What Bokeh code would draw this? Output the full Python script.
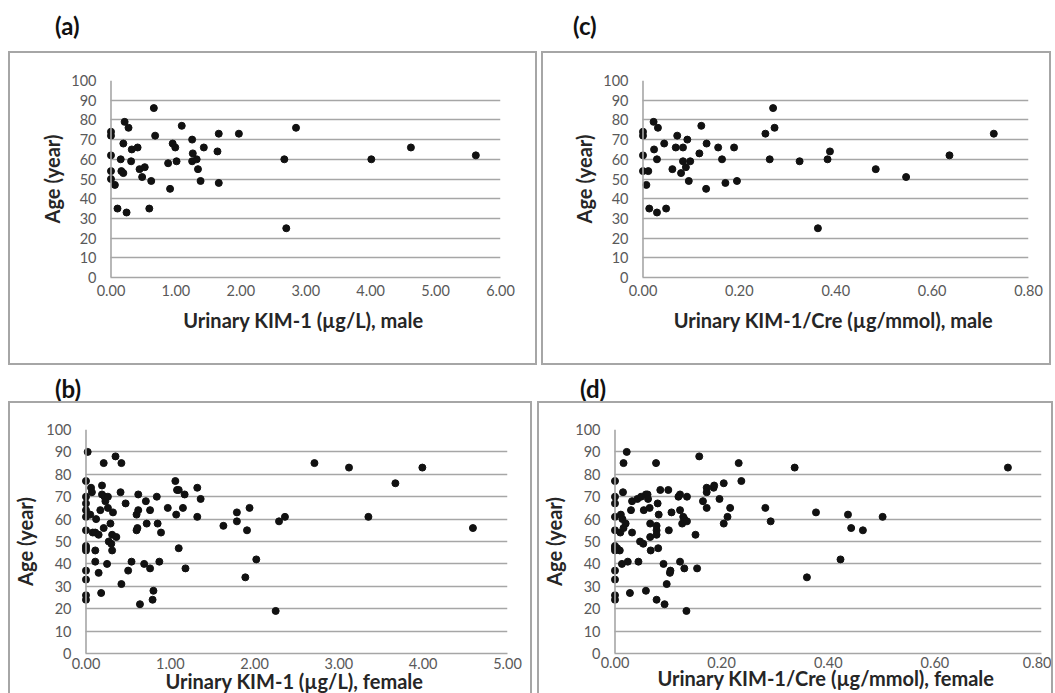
from bokeh.plotting import figure
from bokeh.layouts import column, row
from bokeh.models import Div, Spacer, Range1d, Span, NumeralTickFormatter, FixedTicker
from bokeh.embed import file_html
from bokeh.resources import INLINE

# ---------------- data ----------------
# (a) male, urinary KIM-1 (ug/L) vs age
a_kim = [0.00, 0.00, 0.00, 0.00, 0.00, 0.06, 0.10, 0.15, 0.16, 0.19, 0.19, 0.21, 0.24,
         0.27, 0.31, 0.32, 0.41, 0.44, 0.48, 0.52, 0.59, 0.62, 0.66, 0.68, 0.88, 0.91,
         0.95, 0.99, 1.01, 1.09, 1.25, 1.26, 1.25, 1.32, 1.34, 1.38, 1.43, 1.64, 1.66,
         1.66, 1.97, 2.67, 2.70, 2.85, 4.01, 4.62, 5.62]
a_age = [74, 72, 62, 54, 50, 47, 35, 60, 54, 68, 53, 79, 33,
         76, 59, 65, 66, 55, 51, 56, 35, 49, 86, 72, 58, 45,
         68, 66, 59, 77, 70, 63, 59, 60, 55, 49, 66, 64, 73,
         48, 73, 60, 25, 76, 60, 66, 62]

# (c) male, urinary KIM-1/Cre (ug/mmol) vs age
c_kim = [0.000, 0.000, 0.000, 0.000, 0.011, 0.007, 0.013, 0.022, 0.023, 0.029, 0.031,
         0.029, 0.044, 0.048, 0.061, 0.068, 0.071, 0.079, 0.083, 0.083, 0.089, 0.092,
         0.095, 0.098, 0.117, 0.121, 0.131, 0.132, 0.156, 0.164, 0.171, 0.189, 0.195,
         0.254, 0.263, 0.270, 0.273, 0.325, 0.363, 0.383, 0.388, 0.483, 0.546, 0.636,
         0.728]
c_age = [74, 72, 62, 54, 54, 47, 35, 79, 65, 60, 76,
         33, 68, 35, 55, 66, 72, 53, 66, 59, 56, 70,
         49, 59, 63, 77, 45, 68, 66, 60, 48, 66, 49,
         73, 60, 86, 76, 59, 25, 60, 64, 55, 51, 62,
         73]

# (b) female, urinary KIM-1 (ug/L) vs age
b_kim = [0.02, 0.00, 0.00, 0.00, 0.00, 0.00, 0.00, 0.00, 0.00, 0.00, 0.00, 0.00, 0.00,
         0.00, 0.05, 0.06, 0.07, 0.08, 0.11, 0.11, 0.11, 0.12, 0.15, 0.15, 0.17, 0.18,
         0.19, 0.19, 0.21, 0.21, 0.22, 0.23, 0.25, 0.26, 0.26, 0.27, 0.29, 0.30, 0.31,
         0.31, 0.32, 0.35, 0.36, 0.41, 0.42, 0.42, 0.47, 0.50, 0.54, 0.60, 0.60, 0.61,
         0.62, 0.62, 0.64, 0.69, 0.71, 0.72, 0.76, 0.76, 0.79, 0.80, 0.84, 0.85, 0.87,
         0.89, 0.97, 1.06, 1.07, 1.08, 1.10, 1.10, 1.15, 1.17, 1.18, 1.32, 1.32, 1.36,
         1.63, 1.79, 1.79, 1.89, 1.91, 1.94, 2.02, 2.25, 2.29, 2.36, 2.71, 3.12, 3.35,
         3.67, 3.99, 4.59]
b_age = [90, 77, 70, 67, 64, 61, 55, 48, 47, 46, 37, 33, 26,
         24, 62, 74, 72, 54, 54, 46, 41, 60, 53, 36, 64, 27,
         75, 71, 85, 56, 70, 68, 40, 65, 70, 50, 58, 49, 53,
         46, 63, 88, 52, 72, 31, 85, 67, 37, 41, 55, 62, 56,
         64, 71, 22, 40, 68, 58, 38, 64, 24, 28, 70, 58, 41,
         54, 65, 77, 62, 73, 47, 73, 65, 71, 38, 74, 61, 69,
         57, 63, 59, 34, 55, 65, 42, 19, 59, 61, 85, 83, 61,
         76, 83, 56]

# (d) female, urinary KIM-1/Cre (ug/mmol) vs age
d_kim = [0.000, 0.000, 0.000, 0.000, 0.000, 0.000, 0.000, 0.000, 0.000, 0.000, 0.000,
         0.000, 0.004, 0.009, 0.011, 0.010, 0.013, 0.014, 0.016, 0.015, 0.016, 0.020,
         0.022, 0.024, 0.028, 0.030, 0.032, 0.032, 0.042, 0.044, 0.047, 0.049, 0.053,
         0.054, 0.058, 0.058, 0.061, 0.062, 0.065, 0.066, 0.066, 0.067, 0.077, 0.078,
         0.078, 0.078, 0.078, 0.080, 0.081, 0.082, 0.085, 0.091, 0.093, 0.097, 0.100,
         0.101, 0.103, 0.104, 0.106, 0.119, 0.122, 0.122, 0.122, 0.126, 0.128, 0.130,
         0.130, 0.134, 0.135, 0.135, 0.151, 0.154, 0.158, 0.165, 0.172, 0.172, 0.172,
         0.185, 0.186, 0.196, 0.204, 0.204, 0.211, 0.216, 0.232, 0.237, 0.282, 0.292,
         0.337, 0.360, 0.377, 0.423, 0.437, 0.443, 0.465, 0.502, 0.737]
d_age = [77, 70, 67, 61, 55, 48, 47, 46, 37, 33, 26,
         24, 47, 46, 62, 54, 40, 60, 85, 72, 56, 58,
         90, 41, 27, 64, 54, 68, 69, 41, 50, 70, 49,
         64, 71, 28, 71, 69, 65, 52, 58, 46, 85, 55,
         57, 53, 24, 67, 47, 62, 73, 40, 22, 31, 73,
         55, 36, 37, 63, 70, 41, 71, 64, 58, 61, 38,
         60, 19, 59, 70, 53, 38, 88, 68, 74, 72, 65,
         74, 75, 69, 76, 58, 61, 65, 85, 77, 65, 59,
         83, 34, 63, 42, 62, 56, 55, 61, 83]

a_xlabel = "Urinary KIM-1 (µg/L), male"
c_xlabel = "Urinary KIM-1/Cre (µg/mmol), male"
b_xlabel = "Urinary KIM-1 (µg/L), female"
d_xlabel = "Urinary KIM-1/Cre (µg/mmol), female"
y_label = "Age (year)"
y_ticks = [0, 10, 20, 30, 40, 50, 60, 70, 80, 90, 100]
ab_ticks_a = [0, 1, 2, 3, 4, 5, 6]
ab_ticks_b = [0, 1, 2, 3, 4, 5]
cd_ticks = [0, 0.2, 0.4, 0.6, 0.8]

FONT = "Lato"
GRID = "#a6a6a6"
BORDER = "#a6a6a6"


def panel(xs, ys, xmax, xticks, xlabel, width, height, left, right, top, bottom,
          ytick_standoff, ylab_standoff, xtick_standoff, xlab_standoff,
          border_bottom=True):
    frame_w = width - 4 - left - right
    pad = 4.5 / frame_w * xmax  # room so dots at x=0 are not clipped
    p = figure(width=width, height=height, output_backend="svg", toolbar_location=None,
               x_range=Range1d(-pad, xmax), y_range=Range1d(0, 100),
               min_border_left=left, min_border_right=right,
               min_border_top=top, min_border_bottom=bottom)
    p.outline_line_color = None
    p.background_fill_color = "white"
    p.border_fill_color = "white"
    p.xgrid.visible = False
    p.ygrid.grid_line_color = GRID
    p.ygrid.grid_line_width = 1.6
    p.ygrid.ticker = FixedTicker(ticks=y_ticks)
    g = p.ygrid[0]
    if "cross_bounds" in g.properties():
        g.cross_bounds = (0, xmax)

    for ax in (p.xaxis[0], p.yaxis[0]):
        ax.major_tick_line_color = None
        ax.minor_tick_line_color = None
        ax.major_tick_out = 0
        ax.major_tick_in = 0
        ax.major_label_text_font = FONT
        ax.major_label_text_color = "#595959"
        ax.major_label_text_font_size = "14.5px"
        ax.axis_label_text_font = FONT
        ax.axis_label_text_font_style = "bold"
        ax.axis_label_text_color = "#262626"
        ax.axis_label_text_font_size = "20px"
        ax.axis_line_color = GRID
        ax.axis_line_width = 1.6

    p.xaxis.ticker = FixedTicker(ticks=xticks)
    p.xaxis.formatter = NumeralTickFormatter(format="0.00")
    p.xaxis.bounds = (0, xmax)
    p.xaxis.axis_label = xlabel
    p.xaxis.major_label_standoff = xtick_standoff
    p.xaxis.axis_label_standoff = xlab_standoff

    p.yaxis.ticker = FixedTicker(ticks=y_ticks)
    p.yaxis.axis_line_color = None
    p.yaxis.axis_label = y_label
    p.yaxis.major_label_standoff = ytick_standoff
    p.yaxis.axis_label_standoff = ylab_standoff

    p.add_layout(Span(location=0, dimension="height", line_color=GRID, line_width=1.6))

    p.scatter(xs, ys, size=7, color="#111111", line_color="#111111")

    st = {"border": "2px solid " + BORDER, "box-sizing": "border-box"}
    if not border_bottom:
        st["border-bottom"] = "none"
    p.styles = st
    p.margin = (0, 0, 0, 0)
    return p


def title_div(txt, width, height, pad_left, pad_top):
    html = ('<div style="padding-left:%dpx;padding-top:%dpx;font-family:Lato;'
            'font-weight:bold;font-size:24px;line-height:28px;color:#111111;">%s</div>'
            % (pad_left, pad_top, txt))
    return Div(text=html, width=width, height=height, margin=(0, 0, 0, 0))


pa = panel(a_kim, a_age, 6, ab_ticks_a, a_xlabel, 529, 314, 96, 39, 27, 90,
           10, 4, 7, 9)
pc = panel(c_kim, c_age, 0.8, cd_ticks, c_xlabel, 510, 314, 95, 25, 27, 90,
           10, 4, 7, 9)
pb = panel(b_kim, b_age, 5, ab_ticks_b, b_xlabel, 524, 292, 71, 27, 23, 42,
           10, 6, 4, -3, border_bottom=False)
pd_ = panel(d_kim, d_age, 0.8, cd_ticks, d_xlabel, 516, 292, 71, 14, 26, 39,
            10, 6, 3, -5, border_bottom=False)

row1 = row(title_div("(a)", 533, 43, 47, 4), title_div("(c)", 506, 43, 32, 4),
           spacing=0, margin=(0, 0, 0, 0))
row2 = row(pa, Spacer(width=4, height=314, margin=(0, 0, 0, 0)), pc,
           spacing=0, margin=(0, 0, 0, 0))
row3 = row(title_div("(b)", 529, 36, 47, 10), title_div("(d)", 510, 36, 43, 10),
           spacing=0, margin=(0, 0, 0, 0))
row4 = row(pb, Spacer(width=5, height=292, margin=(0, 0, 0, 0)), pd_,
           spacing=0, margin=(0, 0, 0, 0))

layout = column(row1, row2, row3, row4, spacing=0, margin=(8, 0, 0, 8))

open("out.html", "w").write(file_html(layout, INLINE))
